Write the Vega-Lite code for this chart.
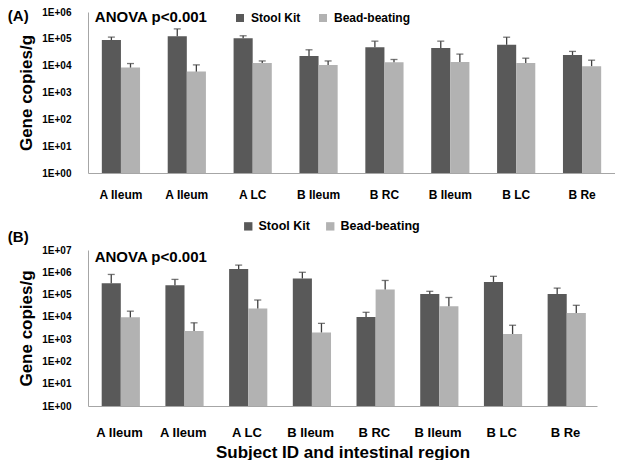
{
  "$schema": "https://vega.github.io/schema/vega-lite/v6.json",
  "padding": {"top": 7, "left": 7, "right": 0, "bottom": 0},
  "spacing": 20,
  "resolve": {"legend": {"color": "independent"}},
  "config": {
    "font": "Liberation Sans",
    "view": {"stroke": null},
    "axis": {"grid": false, "ticks": false, "domainColor": "#a6a6a6", "labelFontWeight": "bold", "labelColor": "#000000", "titleColor": "#000000", "titleFontWeight": "bold"},
    "legend": {"labelFontWeight": "bold", "labelColor": "#000000"}
  },
  "datasets": {
    "a": [
      {"site": "A Ileum#1", "method": "Stool Kit", "value": 90000, "upper": 116000},
      {"site": "A Ileum#1", "method": "Bead-beating", "value": 8500, "upper": 12000},
      {"site": "A Ileum#2", "method": "Stool Kit", "value": 125000, "upper": 235000},
      {"site": "A Ileum#2", "method": "Bead-beating", "value": 6000, "upper": 10700},
      {"site": "A LC", "method": "Stool Kit", "value": 105000, "upper": 130000},
      {"site": "A LC", "method": "Bead-beating", "value": 12600, "upper": 15000},
      {"site": "B Ileum#1", "method": "Stool Kit", "value": 23000, "upper": 39000},
      {"site": "B Ileum#1", "method": "Bead-beating", "value": 10700, "upper": 15000},
      {"site": "B RC", "method": "Stool Kit", "value": 49000, "upper": 82000},
      {"site": "B RC", "method": "Bead-beating", "value": 13500, "upper": 17000},
      {"site": "B Ileum#2", "method": "Stool Kit", "value": 46000, "upper": 82000},
      {"site": "B Ileum#2", "method": "Bead-beating", "value": 13700, "upper": 27000},
      {"site": "B LC", "method": "Stool Kit", "value": 60000, "upper": 115000},
      {"site": "B LC", "method": "Bead-beating", "value": 12600, "upper": 19000},
      {"site": "B Re", "method": "Stool Kit", "value": 25000, "upper": 34000},
      {"site": "B Re", "method": "Bead-beating", "value": 9600, "upper": 16000}
    ],
    "b": [
      {"site": "A Ileum#1", "method": "Stool Kit", "value": 320000, "upper": 800000},
      {"site": "A Ileum#1", "method": "Bead-beating", "value": 9500, "upper": 18000},
      {"site": "A Ileum#2", "method": "Stool Kit", "value": 260000, "upper": 480000},
      {"site": "A Ileum#2", "method": "Bead-beating", "value": 2300, "upper": 5400},
      {"site": "A LC", "method": "Stool Kit", "value": 1400000, "upper": 2100000},
      {"site": "A LC", "method": "Bead-beating", "value": 24000, "upper": 57000},
      {"site": "B Ileum#1", "method": "Stool Kit", "value": 530000, "upper": 1000000},
      {"site": "B Ileum#1", "method": "Bead-beating", "value": 2000, "upper": 5100},
      {"site": "B RC", "method": "Stool Kit", "value": 9800, "upper": 16000},
      {"site": "B RC", "method": "Bead-beating", "value": 170000, "upper": 430000},
      {"site": "B Ileum#2", "method": "Stool Kit", "value": 105000, "upper": 140000},
      {"site": "B Ileum#2", "method": "Bead-beating", "value": 30000, "upper": 74000},
      {"site": "B LC", "method": "Stool Kit", "value": 370000, "upper": 660000},
      {"site": "B LC", "method": "Bead-beating", "value": 1700, "upper": 4200},
      {"site": "B Re", "method": "Stool Kit", "value": 105000, "upper": 195000},
      {"site": "B Re", "method": "Bead-beating", "value": 15000, "upper": 33000}
    ],
    "notes": [
      {"site": "A Ileum#1", "top": 1000000, "label": "ANOVA p<0.001"}
    ],
    "notesB": [
      {"site": "A Ileum#1", "top": 10000000, "label": "ANOVA p<0.001"}
    ]
  },
  "vconcat": [
    {
      "width": 527,
      "height": 161,
      "title": {"text": "(A)", "anchor": "start", "frame": "bounds", "orient": "top", "fontSize": 15, "fontWeight": "bold", "baseline": "middle", "offset": 0, "dy": 24, "dx": -10, "color": "#000000"},
      "encoding": {
        "x": {"field": "site", "type": "nominal", "sort": null, "scale": {"paddingInner": 0.42, "paddingOuter": 0.21},
              "axis": {"title": null, "labelAngle": 0, "labelFontSize": 12, "labelPadding": 16, "labelExpr": "split(datum.label, '#')[0]"}}
      },
      "layer": [
        {
          "data": {"name": "a"},
          "mark": {"type": "bar"},
          "encoding": {
            "xOffset": {"field": "method", "type": "nominal", "sort": ["Stool Kit", "Bead-beating"]},
            "y": {"field": "value", "type": "quantitative", "scale": {"type": "log", "domain": [1, 1000000], "nice": false},
                  "axis": {"title": "Gene copies/g", "titleFontSize": 17, "titlePadding": 6, "values": [1, 10, 100, 1000, 10000, 100000, 1000000], "labelFontSize": 10, "labelPadding": 17, "labelExpr": "'1E+0' + format(log(datum.value)/LN10, '.0f')"}},
            "y2": {"datum": 1},
            "color": {"field": "method", "type": "nominal", "scale": {"domain": ["Stool Kit", "Bead-beating"], "range": ["#595959", "#b2b2b2"]},
                      "legend": {"orient": "none", "legendX": 146, "legendY": 0, "direction": "horizontal", "title": null, "symbolType": "square", "symbolSize": 64, "symbolStrokeWidth": 0, "labelFontSize": 12, "labelOffset": 5, "columnPadding": 16}}
          }
        },
        {
          "data": {"name": "a"},
          "mark": {"type": "rule", "color": "#404040", "strokeWidth": 1.3},
          "encoding": {
            "xOffset": {"field": "method", "type": "nominal", "sort": ["Stool Kit", "Bead-beating"]},
            "y": {"field": "value", "type": "quantitative"},
            "y2": {"field": "upper"}
          }
        },
        {
          "data": {"name": "a"},
          "mark": {"type": "tick", "color": "#404040", "size": 7, "thickness": 1.3},
          "encoding": {
            "xOffset": {"field": "method", "type": "nominal", "sort": ["Stool Kit", "Bead-beating"]},
            "y": {"field": "upper", "type": "quantitative"}
          }
        },
        {
          "data": {"name": "notes"},
          "mark": {"type": "text", "align": "left", "baseline": "top", "fontSize": 15, "fontWeight": "bold", "dx": -7, "dy": -2, "color": "#000000"},
          "encoding": {
            "x": {"field": "site", "type": "nominal", "sort": null, "bandPosition": 0},
            "y": {"field": "top", "type": "quantitative"},
            "text": {"field": "label"}
          }
        }
      ]
    },
    {
      "width": 509,
      "height": 156,
      "title": {"text": "(B)", "anchor": "start", "frame": "bounds", "orient": "top", "fontSize": 15, "fontWeight": "bold", "baseline": "middle", "offset": 0, "dy": 32, "dx": -10, "color": "#000000"},
      "encoding": {
        "x": {"field": "site", "type": "nominal", "sort": null, "scale": {"paddingInner": 0.44, "paddingOuter": 0.215},
              "axis": {"title": "Subject ID and intestinal region", "titleFontSize": 17, "titlePadding": 5, "labelAngle": 0, "labelFontSize": 13, "labelPadding": 20, "labelExpr": "split(datum.label, '#')[0]"}}
      },
      "layer": [
        {
          "data": {"name": "b"},
          "mark": {"type": "bar"},
          "encoding": {
            "xOffset": {"field": "method", "type": "nominal", "sort": ["Stool Kit", "Bead-beating"]},
            "y": {"field": "value", "type": "quantitative", "scale": {"type": "log", "domain": [1, 10000000], "nice": false},
                  "axis": {"title": "Gene copies/g", "titleFontSize": 17, "titlePadding": 6, "values": [1, 10, 100, 1000, 10000, 100000, 1000000, 10000000], "labelFontSize": 10, "labelPadding": 17, "labelExpr": "'1E+0' + format(log(datum.value)/LN10, '.0f')"}},
            "y2": {"datum": 1},
            "color": {"field": "method", "type": "nominal", "scale": {"domain": ["Stool Kit", "Bead-beating"], "range": ["#595959", "#b2b2b2"]},
                      "legend": {"orient": "none", "legendX": 154, "legendY": -30, "direction": "horizontal", "title": null, "symbolType": "square", "symbolSize": 70, "symbolStrokeWidth": 0, "labelFontSize": 12.5, "labelOffset": 4, "columnPadding": 14}}
          }
        },
        {
          "data": {"name": "b"},
          "mark": {"type": "rule", "color": "#404040", "strokeWidth": 1.3},
          "encoding": {
            "xOffset": {"field": "method", "type": "nominal", "sort": ["Stool Kit", "Bead-beating"]},
            "y": {"field": "value", "type": "quantitative"},
            "y2": {"field": "upper"}
          }
        },
        {
          "data": {"name": "b"},
          "mark": {"type": "tick", "color": "#404040", "size": 7, "thickness": 1.3},
          "encoding": {
            "xOffset": {"field": "method", "type": "nominal", "sort": ["Stool Kit", "Bead-beating"]},
            "y": {"field": "upper", "type": "quantitative"}
          }
        },
        {
          "data": {"name": "notesB"},
          "mark": {"type": "text", "align": "left", "baseline": "top", "fontSize": 15, "fontWeight": "bold", "dx": -7, "dy": 0, "color": "#000000"},
          "encoding": {
            "x": {"field": "site", "type": "nominal", "sort": null, "bandPosition": 0},
            "y": {"field": "top", "type": "quantitative"},
            "text": {"field": "label"}
          }
        }
      ]
    }
  ]
}
